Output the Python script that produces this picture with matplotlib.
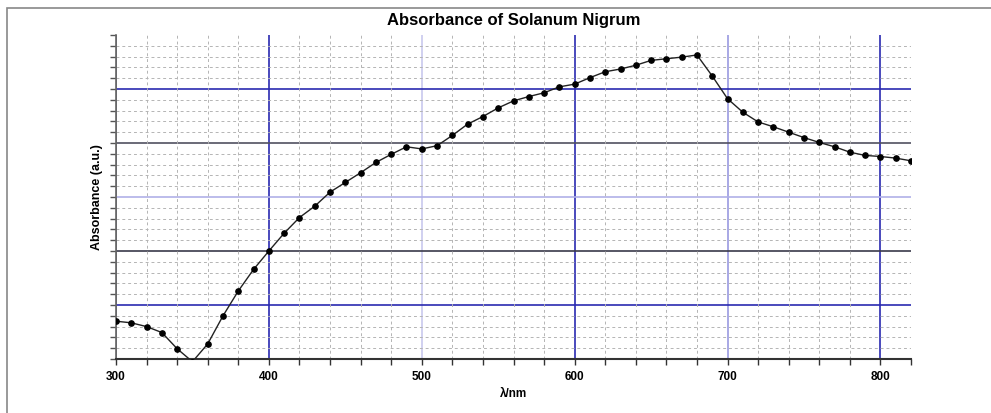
import numpy as np
import matplotlib.pyplot as plt
from matplotlib.patches import Rectangle
from matplotlib.ticker import MultipleLocator

plt.rcParams['font.family'] = ['Liberation Sans', 'DejaVu Sans']

wavelength = [300, 310, 320, 330, 340, 350, 360, 370, 380, 390,
              400, 410, 420, 430, 440, 450, 460, 470, 480, 490,
              500, 510, 520, 530, 540, 550, 560, 570, 580, 590,
              600, 610, 620, 630, 640, 650, 660, 670, 680, 690,
              700, 710, 720, 730, 740, 750, 760, 770, 780, 790,
              800, 810, 820]
absorb = [0.70, 0.67, 0.60, 0.49, 0.19, -0.05, 0.28, 0.80, 1.26, 1.66,
          2.00, 2.33, 2.62, 2.83, 3.09, 3.27, 3.45, 3.64, 3.79, 3.93,
          3.89, 3.95, 4.14, 4.35, 4.49, 4.65, 4.78, 4.86, 4.93, 5.04,
          5.09, 5.21, 5.32, 5.37, 5.44, 5.53, 5.56, 5.59, 5.63, 5.24,
          4.82, 4.57, 4.39, 4.30, 4.20, 4.10, 4.01, 3.93, 3.83, 3.77,
          3.75, 3.72, 3.67]

x_major = [300, 400, 500, 600, 700, 800]
x_major_col = ['#555566', '#2a2ab0', '#c8c8ee', '#2a2ab0', '#9a9ae0', '#2a2ab0']
y_major = [1, 2, 3, 4, 5]
y_major_col = ['#2a2ab0', '#3a3a4a', '#b0b0e8', '#505060', '#2a2ab0']

fig = plt.figure(figsize=(9.91, 4.13), dpi=100)
fig.patches.append(Rectangle((7/991, -0.05), 1.1, 1 - 8/413 + 0.05,
                             transform=fig.transFigure, fill=False,
                             edgecolor='#888888', linewidth=1.2))

ax = fig.add_axes([116/991, 54/413, 795/991, 324/413])
ax.set_xlim(300, 820)
ax.set_ylim(0, 6)

# dashed minor grid
ax.xaxis.set_minor_locator(MultipleLocator(20))
ax.yaxis.set_minor_locator(MultipleLocator(0.2))
ax.grid(True, which='minor', color='#b4b4b4', linestyle=(0, (3, 3)), linewidth=0.7)

for xv, c in zip(x_major, x_major_col):
    ax.axvline(xv, color=c, linewidth=1.2, zorder=1.5)
for yv, c in zip(y_major, y_major_col):
    ax.axhline(yv, color=c, linewidth=1.2, zorder=1.5)

ax.plot(wavelength, absorb, color='#222222', linewidth=1.0,
        marker='o', markersize=3.8, markerfacecolor='black',
        markeredgecolor='black', zorder=3)

ax.set_xticks(x_major)
ax.set_xticklabels([str(v) for v in x_major], fontsize=8.5, fontweight='bold')
ax.set_yticks(range(0, 7))
ax.set_yticklabels([])
ax.tick_params(axis='x', which='both', direction='out', length=4, width=1, color='#333333', pad=5)
ax.tick_params(axis='y', which='both', direction='out', length=4, width=1, color='#555555')

for s in ['top', 'right']:
    ax.spines[s].set_visible(False)
ax.spines['bottom'].set_color('#333333')
ax.spines['bottom'].set_linewidth(1.5)
ax.spines['left'].set_color('#666666')
ax.spines['left'].set_linewidth(1.2)

ax.set_title('Absorbance of Solanum Nigrum', fontsize=12, fontweight='bold', pad=7)
ax.set_xlabel('λ/nm', fontsize=8.5, fontweight='bold', labelpad=3)
ax.set_ylabel('Absorbance (a.u.)', fontsize=9, fontweight='bold', labelpad=2)

fig.savefig('out.png', dpi=100)
